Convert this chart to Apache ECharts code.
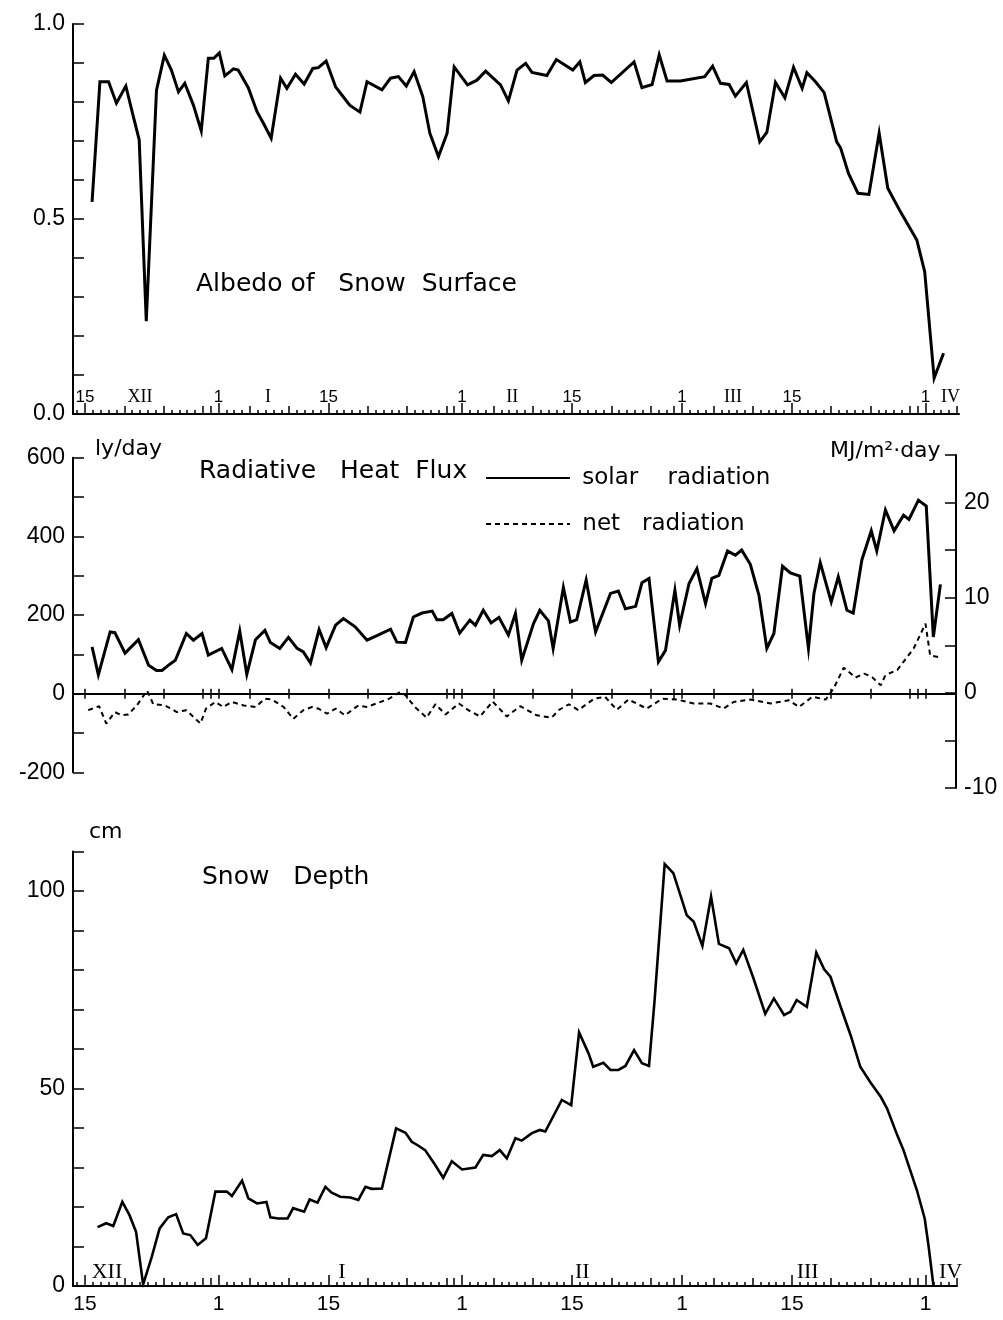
<!DOCTYPE html>
<html><head><meta charset="utf-8">
<script src="https://cdn.jsdelivr.net/npm/echarts@6/dist/echarts.min.js"></script>
<style>html,body{margin:0;padding:0;background:#fff}#c{width:1003px;height:1320px}</style>
</head><body><div id="c"></div>
<script>
// ---- data (day index: 0 = 15 Dec, 17 = 1 Jan, 48 = 1 Feb, 76 = 1 Mar, 107 = 1 Apr) ----
const albedoDay = [0.9,1.9,3.0,4.0,5.2,6.1,6.9,7.8,9.1,10.1,11.0,11.9,12.7,13.8,14.8,15.7,16.4,17.1,17.8,18.9,19.5,20.8,21.9,22.7,23.7,24.9,25.7,26.8,27.9,29.0,29.7,30.7,31.9,32.7,33.7,35.0,35.9,37.8,38.9,39.9,40.9,41.9,43.0,43.9,45.0,46.1,47.0,48.7,49.9,51.0,52.9,53.9,55.0,56.1,56.9,58.8,60.0,62.1,63.0,63.7,64.8,65.9,67.0,69.9,70.9,72.2,73.1,74.1,75.8,78.9,79.9,80.9,82.0,82.8,84.2,85.9,86.8,87.9,89.1,90.2,91.3,91.9,93.0,94.1,95.7,96.2,97.2,98.4,99.8,101.1,102.2,103.8,105.9,106.9,108.1,109.3];
const albedoValue = [0.544,0.852,0.852,0.797,0.841,0.767,0.703,0.238,0.83,0.92,0.882,0.826,0.848,0.792,0.726,0.912,0.912,0.926,0.867,0.885,0.882,0.836,0.775,0.746,0.707,0.861,0.835,0.871,0.846,0.886,0.888,0.905,0.839,0.818,0.792,0.774,0.852,0.831,0.861,0.865,0.841,0.878,0.814,0.72,0.66,0.72,0.89,0.844,0.856,0.879,0.844,0.803,0.882,0.899,0.876,0.868,0.909,0.882,0.903,0.85,0.868,0.869,0.85,0.903,0.837,0.845,0.921,0.854,0.854,0.865,0.892,0.848,0.845,0.815,0.85,0.698,0.722,0.85,0.811,0.889,0.835,0.875,0.852,0.824,0.698,0.682,0.617,0.566,0.563,0.72,0.579,0.519,0.446,0.365,0.092,0.156];

const solarDay = [0.9,1.7,3.2,3.8,5.1,6.8,8.1,9.1,9.8,10.6,11.5,12.9,13.8,14.9,15.7,17.4,18.7,19.7,20.6,21.7,22.9,23.6,24.8,25.9,27.0,27.8,28.7,29.8,30.7,31.9,32.9,34.4,35.9,37.1,38.9,39.7,40.8,41.8,42.9,44.2,44.8,45.6,46.7,47.7,49.0,49.7,50.7,51.7,52.7,53.9,54.8,55.6,57.1,57.9,59.0,59.6,60.9,61.8,62.6,63.8,65.0,66.9,67.9,68.8,70.1,70.9,71.8,73.0,73.9,75.1,75.7,76.9,77.9,79.0,79.8,80.7,81.8,82.8,83.6,84.7,85.8,86.8,87.7,88.8,89.8,91.0,92.1,92.8,93.6,95.0,95.9,97.0,97.8,98.9,100.1,100.8,101.9,103.0,104.2,104.9,106.1,107.1,108.0,108.9];
const solarValue = [119,48,157,155,103,137,72,59,59,72,85,153,136,153,98,115,61,159,49,137,161,130,115,143,115,106,78,163,117,174,191,170,136,147,164,131,130,195,205,210,188,188,204,154,187,174,212,180,194,149,204,85,178,212,185,115,270,182,188,289,157,255,261,216,222,282,293,81,110,263,174,280,318,229,293,301,363,352,365,329,250,115,153,324,307,299,115,255,333,233,297,212,205,340,414,363,467,414,454,443,492,477,144,278];

const netDay = [0.4,1.8,2.7,3.8,4.7,5.5,6.6,7.9,8.7,10.2,11.7,12.9,14.7,15.4,16.6,17.6,18.7,20.2,21.7,22.9,23.8,25.3,26.5,27.8,28.9,29.7,30.8,31.9,33.1,34.8,35.9,37.1,38.7,40.1,40.8,42.0,43.5,44.6,45.9,47.6,48.8,50.3,51.9,53.7,55.4,57.5,59.4,60.3,61.6,62.8,64.8,66.2,67.7,69.2,71.5,73.5,75.4,77.5,79.6,81.3,82.6,84.7,87.3,89.6,90.9,92.6,94.3,95.3,96.6,98.1,99.2,100.2,101.3,101.9,103.4,105.5,107.0,107.6,108.7];
const netValue = [-42,-32,-76,-47,-55,-53,-30,8,-27,-30,-47,-42,-76,-38,-21,-34,-21,-30,-34,-13,-15,-34,-64,-42,-34,-38,-51,-38,-55,-30,-34,-25,-13,4,-4,-34,-61,-27,-53,-25,-42,-58,-20,-58,-32,-55,-61,-42,-27,-42,-13,-8,-41,-15,-38,-13,-15,-25,-25,-38,-21,-15,-25,-17,-34,-8,-15,13,66,41,51,42,21,47,60,115,178,97,93];

const snowDay = [1.6,2.7,3.6,4.75,5.65,6.5,7.4,8.5,9.5,10.6,11.6,12.5,13.4,14.35,15.4,16.6,18.05,18.7,20.0,20.8,21.9,23.1,23.6,24.6,25.8,26.5,27.9,28.6,29.6,30.6,31.4,32.5,33.8,34.8,35.7,36.5,37.8,39.6,40.8,41.6,42.3,43.3,44.5,45.6,46.7,48.0,49.7,50.7,51.8,52.8,53.7,54.8,55.6,56.9,57.9,58.6,60.7,61.9,62.9,64.1,64.7,66.0,66.9,67.9,68.8,69.9,70.9,71.8,72.5,73.8,74.9,76.0,76.6,77.5,78.6,79.7,80.7,82.0,82.9,83.8,85.1,86.6,87.7,89.0,89.8,90.6,91.9,93.1,94.1,94.9,96.2,97.5,98.7,100.0,101.3,102.1,103.4,104.2,105.9,106.9,107.4,108.0];
const snowValue = [14.9,15.9,15.2,21.3,18.0,13.7,0.4,7.4,14.6,17.4,18.2,13.3,12.9,10.4,12.1,23.9,23.9,22.8,26.7,22.2,20.9,21.3,17.4,17.1,17.1,19.7,18.8,21.9,21.1,25.1,23.6,22.6,22.4,21.8,25.1,24.6,24.7,39.9,38.8,36.5,35.7,34.4,30.9,27.4,31.6,29.5,30.0,33.2,32.9,34.4,32.3,37.4,36.8,38.7,39.5,39.1,47.1,45.8,64.2,58.9,55.5,56.5,54.7,54.7,55.7,59.7,56.4,55.7,72.0,106.8,104.5,97.7,93.9,92.2,86.1,98.6,86.6,85.5,81.7,85.1,77.9,68.9,72.8,68.6,69.4,72.4,70.7,84.4,80.2,78.3,70.7,63.3,55.5,51.5,47.9,45.0,38.2,34.4,24.3,17.1,10.0,0.3];

// ---- tick / label definitions ----
const majorTickDays = [0,17,31,48,62,76,90,107];
const majorTickLabels = ['15','1','15','1','15','1','15','1'];
const mediumTickDays = [5,10,15,16,21,26,36,41,46,47,52,57,67,72,75,80,85,95,100,105,106,111];
const romanLabels = ['XII','I','II','III','IV'];
const romanTopDays = [7,23.3,54.4,82.5,110.2];
const romanBottomDays = [2.8,32.7,63.3,92.0,110.2];

// ---- layout ----
const X0 = 85, PXD = 7.855;
function range(l, r){ return {min:(l - X0)/PXD, max:(r - X0)/PXD}; }
function ints(a, b){ const o=[]; for(let i=Math.ceil(a);i<=Math.floor(b);i++) o.push(i); return o; }
const zip = (a,b) => a.map((v,i)=>[v,b[i]]);

const NUM = 'Liberation Sans', TXT = 'DejaVu Sans', ROM = 'Liberation Serif';
const BLK = '#000';
const lineAx = {show:true, onZero:false, lineStyle:{color:BLK, width:2}};
const noLine = {show:false, onZero:false};
const tickStyle = {color:BLK, width:1.5};

const G0 = {left:73, top:24, width:886, height:390};
const G1 = {left:73, top:457.7, width:883, height:314.6};
const G2 = {left:73, top:455, width:883, height:333};
const zeroY = G1.top + G1.height*600/800;
const G3 = {left:73, top:zeroY-10, width:883, height:10};
const G4 = {left:73, top:851.5, width:884, height:434.5};
[G0,G1,G2,G3,G4].forEach(g=>{ g.outerBoundsMode='none'; g.containLabel=false; });

const r0 = range(G0.left, G0.left+G0.width);
const r1 = range(G1.left, G1.left+G1.width);
const r4 = range(G4.left, G4.left+G4.width);

function labelFor(v){ for(let i=0;i<majorTickDays.length;i++){ if(Math.abs(majorTickDays[i]-v)<1e-6) return majorTickLabels[i]; } return ''; }
function romanFor(days){ return v => { for(let i=0;i<days.length;i++){ if(Math.abs(days[i]-v)<1e-6) return romanLabels[i]; } return ''; }; }

function dayAxes(grid, r, opts){
  const base = {type:'value', gridIndex:grid, min:r.min, max:r.max, position:'bottom', splitLine:{show:false}};
  return [
    Object.assign({}, base, {axisLine:lineAx, axisTick:{show:true, inside:true, length:4, lineStyle:tickStyle, customValues:ints(r.min,r.max)}, axisLabel:{show:false}}),
    Object.assign({}, base, {axisLine:noLine, axisTick:{show:true, inside:true, length:8, lineStyle:tickStyle, customValues:mediumTickDays}, axisLabel:{show:false}}),
    Object.assign({}, base, {axisLine:noLine, axisTick:{show:true, inside:true, length:11, lineStyle:tickStyle, customValues:majorTickDays},
      axisLabel:{show:true, inside:opts.labelInside, margin:opts.labelMargin, customValues:majorTickDays, formatter:labelFor, color:BLK, fontFamily:NUM, fontSize:opts.labelSize}}),
    Object.assign({}, base, {axisLine:noLine, axisTick:{show:false},
      axisLabel:{show:true, inside:true, margin:opts.romanMargin, customValues:opts.romanDays, formatter:romanFor(opts.romanDays), color:BLK, fontFamily:ROM, fontSize:opts.romanSize}})
  ];
}

const midTicks = [0].concat(mediumTickDays, majorTickDays).sort((a,b)=>a-b);

const xAxes = [].concat(
  dayAxes(0, r0, {labelInside:true, labelMargin:8, labelSize:17, romanDays:romanTopDays, romanMargin:8, romanSize:18}),
  [
    {type:'value', gridIndex:1, min:r1.min, max:r1.max, show:false},
    {type:'value', gridIndex:2, min:r1.min, max:r1.max, show:false},
    {type:'value', gridIndex:3, min:r1.min, max:r1.max, position:'bottom', splitLine:{show:false}, axisLine:lineAx,
      axisTick:{show:true, inside:true, length:5, lineStyle:tickStyle, customValues:midTicks}, axisLabel:{show:false}},
    {type:'value', gridIndex:3, min:r1.min, max:r1.max, position:'bottom', splitLine:{show:false}, axisLine:noLine,
      axisTick:{show:true, inside:false, length:5, lineStyle:tickStyle, customValues:midTicks}, axisLabel:{show:false}}
  ],
  dayAxes(4, r4, {labelInside:false, labelMargin:8, labelSize:21, romanDays:romanBottomDays, romanMargin:3, romanSize:22})
);

function yAx(grid, min, max, interval, labelEvery, fmt, pos){
  return {type:'value', gridIndex:grid, min:min, max:max, interval:interval, position:pos||'left',
    splitLine:{show:false}, axisLine:lineAx,
    axisTick:{show:true, inside:true, length:11, lineStyle:tickStyle},
    axisLabel:{show:true, margin:8, color:BLK, fontFamily:NUM, fontSize:23,
      formatter: v => (Math.abs(v/labelEvery - Math.round(v/labelEvery))<1e-6 ? fmt(v) : '')}};
}

const yAxes = [
  yAx(0, 0, 1, 0.1, 0.5, v=>v.toFixed(1)),
  yAx(1, -200, 600, 100, 200, v=>String(Math.round(v))),
  yAx(2, -10, 25, 5, 10, v=>String(Math.round(v)), 'right'),
  {type:'value', gridIndex:3, min:0, max:1, show:false},
  yAx(4, 0, 110, 10, 50, v=>String(Math.round(v)))
];

function ttl(text, left, top, size){
  return {text:text, left:left, top:top, padding:0, textStyle:{color:BLK, fontWeight:'normal', fontFamily:TXT, fontSize:size}};
}

const chart = echarts.init(document.getElementById('c'), null, {renderer:'canvas'});
chart.setOption({
  animation:false,
  backgroundColor:'#fff',
  title:[
    ttl('Albedo of   Snow  Surface', 196, 272, 25),
    ttl('ly/day', 95, 438, 22),
    ttl('Radiative   Heat  Flux', 199, 459, 25),
    ttl('MJ/m²·day', 830, 440, 22),
    ttl('cm', 89, 821, 22),
    ttl('Snow   Depth', 202, 865, 25)
  ],
  legend:{
    data:['solar radiation','net radiation'], orient:'vertical', left:480, top:461,
    itemWidth:84, itemHeight:14, itemGap:22, selectedMode:false,
    itemStyle:{opacity:0, borderWidth:0},
    formatter: n => n==='solar radiation' ? ' solar    radiation' : ' net   radiation',
    textStyle:{color:BLK, fontFamily:TXT, fontSize:23, lineHeight:24}
  },
  grid:[G0,G1,G2,G3,G4],
  xAxis:xAxes,
  yAxis:yAxes,
  series:[
    {name:'albedo', type:'line', xAxisIndex:0, yAxisIndex:0, data:zip(albedoDay, albedoValue), symbol:'none', silent:true,
      lineStyle:{color:BLK, width:3, join:'miter'}},
    {name:'solar radiation', type:'line', xAxisIndex:4, yAxisIndex:1, data:zip(solarDay, solarValue), symbol:'none', silent:true,
      itemStyle:{color:BLK}, lineStyle:{color:BLK, width:3, join:'miter'}},
    {name:'net radiation', type:'line', xAxisIndex:4, yAxisIndex:1, data:zip(netDay, netValue), symbol:'none', silent:true,
      itemStyle:{color:BLK}, lineStyle:{color:BLK, width:2, type:[5,4]}},
    {name:'snow depth', type:'line', xAxisIndex:8, yAxisIndex:4, data:zip(snowDay, snowValue), symbol:'none', silent:true,
      lineStyle:{color:BLK, width:2.6, join:'miter'}}
  ]
});
</script>
</body></html>
